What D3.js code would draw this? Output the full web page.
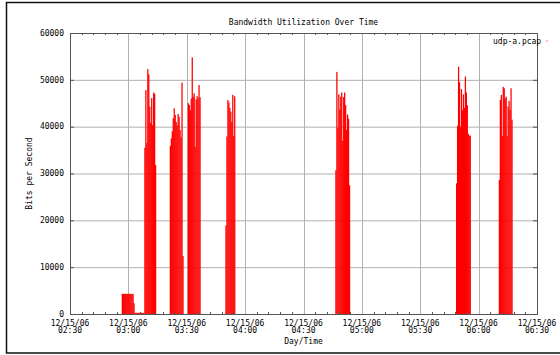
<!DOCTYPE html>
<meta charset="utf-8">
<script src="https://d3js.org/d3.v7.min.js"></script>
<style>
  body { margin: 0; background: #fff; }
  text { font-family: "DejaVu Sans Mono", monospace; font-size: 8px; fill: #000; }
</style>
<div id="my_dataviz"></div>
<script>

    // bursts of traffic: start time (12/15/06) and one value per 30 s
    const burstStarts = ["02:56:35", "03:08:10", "03:21:15", "03:30:30", "03:49:50", "04:46:20", "05:48:22", "06:10:20"];
    const burst0 = [4300, 4300, 4300, 4300, 4300, 4300, 4300, 4300, 4300, 4300, 4300, 4300, 2300,
        250, 250, 250, 250, 250, 250, 250, 250, 250, 250];
    const burst1 = [35500, 47800, 36500, 52300, 51200, 44300, 40800, 46100, 40300, 47300, 47000, 31800];
    const burst2 = [35900, 37500, 39000, 41800, 43900, 42500, 41000, 40300, 42700, 42100, 39300, 37700, 49400, 12400];
    const burst3 = [45000, 44600, 43500, 46000, 54800, 46400, 47100, 35700, 45800, 46500, 46000, 48900, 46300];
    const burst4 = [18900, 37900, 45700, 45200, 44000, 43200, 41000, 46800, 38000, 46500];
    const burst5 = [30700, 51700, 39700, 46900, 43700, 46400, 47300, 37000, 46300, 47300, 44600, 39300, 42600, 41700, 27500];
    const burst6 = [27900, 40200, 52800, 49500, 40000, 48000, 43500, 46900, 44000, 50700, 47300, 44600, 38500, 38100, 38100];
    const burst7 = [28600, 45700, 46800, 38000, 48500, 48200, 46000, 46400, 38000, 44300, 45500, 43600, 48200, 41500];
    const burstValues = [burst0, burst1, burst2, burst3, burst4, burst5, burst6, burst7];

    const yTicks = [0, 10000, 20000, 30000, 40000, 50000, 60000];
    const timeStart = "02:30:00", timeEnd = "06:30:00";
    const seriesName = "udp-a.pcap";

    const parseT = d3.utcParse("%Y-%m-%d %H:%M:%S");
    const day = "2006-12-15 ";

    // flatten into samples
    let data = [];
    burstStarts.forEach(function (s, i) {
        let t0 = parseT(day + s);
        burstValues[i].forEach(function (v, j) {
            data.push({ t: d3.utcSecond.offset(t0, j * 30), v: v });
        });
    });

    let margin = { top: 33, right: 23, bottom: 41, left: 70 },
        width = 560 - margin.left - margin.right,
        height = 355 - margin.top - margin.bottom;

    let root = d3.select("#my_dataviz")
        .append("svg")
        .attr("width", 560)
        .attr("height", 355);

    // outer frame
    root.append("rect")
        .attr("x", 6.5).attr("y", 2.5)
        .attr("width", 600).attr("height", 350.5)
        .attr("fill", "none")
        .attr("stroke", "#111")
        .attr("stroke-width", 1.5);

    let svg = root.append("g")
        .attr("transform", "translate(" + margin.left + "," + margin.top + ")");

    let x = d3.scaleUtc()
        .domain([parseT(day + timeStart), parseT(day + timeEnd)])
        .range([0, width]);

    let y = d3.scaleLinear()
        .domain([0, 60000])
        .range([height, 0]);

    let majors = x.ticks(d3.utcMinute.every(30));
    let minors = x.ticks(d3.utcMinute.every(6)).filter(function (d) { return d.getUTCMinutes() % 30 != 0; });

    // grid
    svg.append("g").selectAll("line")
        .data(yTicks.slice(1, -1))
        .enter().append("line")
        .attr("x1", 0).attr("x2", width)
        .attr("y1", function (d) { return y(d) + 0.5; })
        .attr("y2", function (d) { return y(d) + 0.5; })
        .attr("stroke", "#b0b0b0");

    svg.append("g").selectAll("line")
        .data(majors.slice(1, -1))
        .enter().append("line")
        .attr("x1", function (d) { return Math.round(x(d)) + 0.5; })
        .attr("x2", function (d) { return Math.round(x(d)) + 0.5; })
        .attr("y1", 0).attr("y2", height)
        .attr("stroke", "#b0b0b0");

    // bars (impulses)
    svg.append("g").selectAll("rect")
        .data(data)
        .enter().append("rect")
        .attr("x", function (d) { return x(d.t); })
        .attr("width", function (d) { return x(d3.utcSecond.offset(d.t, 30)) - x(d.t) + 0.3; })
        .attr("y", function (d) { return y(d.v); })
        .attr("height", function (d) { return y(0) - y(d.v); })
        .attr("fill", "#ff0000");

    // minor ticks top and bottom (inward)
    let tk = svg.append("g").attr("stroke", "#555");
    tk.selectAll(".mb").data(minors).enter().append("line")
        .attr("x1", function (d) { return Math.round(x(d)) + 0.5; })
        .attr("x2", function (d) { return Math.round(x(d)) + 0.5; })
        .attr("y1", height).attr("y2", height - 2);
    tk.selectAll(".mt").data(minors).enter().append("line")
        .attr("x1", function (d) { return Math.round(x(d)) + 0.5; })
        .attr("x2", function (d) { return Math.round(x(d)) + 0.5; })
        .attr("y1", 0).attr("y2", 2);
    // major y ticks left and right
    tk.selectAll(".yl").data(yTicks).enter().append("line")
        .attr("x1", 0).attr("x2", 4)
        .attr("y1", function (d) { return y(d) + 0.5; })
        .attr("y2", function (d) { return y(d) + 0.5; });
    tk.selectAll(".yr").data(yTicks).enter().append("line")
        .attr("x1", width - 4).attr("x2", width)
        .attr("y1", function (d) { return y(d) + 0.5; })
        .attr("y2", function (d) { return y(d) + 0.5; });

    // plot border
    svg.append("rect")
        .attr("x", 0.5).attr("y", 0.5)
        .attr("width", width).attr("height", height)
        .attr("fill", "none")
        .attr("stroke", "#555");

    // y labels
    svg.append("g").selectAll("text")
        .data(yTicks)
        .enter().append("text")
        .attr("x", -6)
        .attr("y", function (d) { return y(d); })
        .attr("dy", "0.35em")
        .style("text-anchor", "end")
        .text(function (d) { return d; });

    // x labels, two lines
    let fmtDay = d3.utcFormat("%m/%d/%y"), fmtTime = d3.utcFormat("%H:%M");
    let xl = svg.append("g").selectAll("g")
        .data(majors)
        .enter().append("g")
        .attr("transform", function (d) { return "translate(" + x(d) + "," + height + ")"; });
    xl.append("text").attr("y", 11.5).style("text-anchor", "middle").text(function (d) { return fmtDay(d); });
    xl.append("text").attr("y", 19).style("text-anchor", "middle").text(function (d) { return fmtTime(d); });

    // titles
    svg.append("text")
        .attr("x", width / 2).attr("y", -8)
        .style("text-anchor", "middle")
        .text("Bandwidth Utilization Over Time");

    svg.append("text")
        .attr("x", width / 2).attr("y", height + 30)
        .style("text-anchor", "middle")
        .text("Day/Time");

    svg.append("text")
        .attr("transform", "translate(-38," + (height / 2) + ") rotate(-90)")
        .style("text-anchor", "middle")
        .text("Bits per Second");

    // legend
    svg.append("text")
        .attr("x", width - 44).attr("y", 10.5)
        .text(seriesName);
    svg.append("line")
        .attr("x1", width + 9).attr("x2", width + 11)
        .attr("y1", 8).attr("y2", 8)
        .attr("stroke", "#ff0000").attr("stroke-opacity", 0.5);

</script>
